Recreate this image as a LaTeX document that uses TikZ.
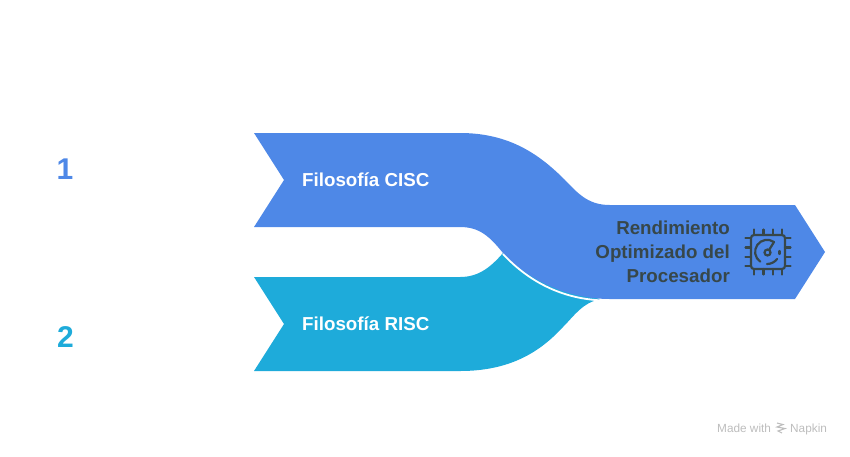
\documentclass[tikz,border=0pt]{standalone}
\usepackage{fontspec}
\setmainfont{Liberation Sans}
\definecolor{blueA}{HTML}{4E88E7}
\definecolor{cyanA}{HTML}{1EABDA}
\definecolor{darkA}{HTML}{37474A}
\definecolor{greyA}{HTML}{BDBDBD}
\tikzset{
  labelw/.style={text=white,font=\bfseries\fontsize{18.75}{24}\selectfont,anchor=west,inner sep=0pt},
  labeld/.style={text=darkA,font=\bfseries\fontsize{18.75}{24}\selectfont,align=right,anchor=east,inner sep=0pt},
  numlab/.style={font=\bfseries\fontsize{30}{36}\selectfont,inner sep=0pt},
  ico/.style={draw=darkA,line width=2.2pt,line cap=round},
  footmark/.style={text=greyA,font=\fontsize{11.8}{13}\selectfont,inner sep=0pt}
}
\begin{document}
\begin{tikzpicture}[x=1pt,y=-1pt]
\useasboundingbox (0,0) rectangle (850,456);
% lower ribbon
\fill[cyanA] (254,277) -- (460,277) .. controls (478,277) and (490,268) .. (503,253)
  -- (600,299.5)
  .. controls (583,302) and (574,316) .. (563,327)
  .. controls (540,352) and (510,371) .. (460,371)
  -- (254,371) -- (284,324) -- cycle;
% upper ribbon
\fill[blueA] (254,133) -- (460,133)
  .. controls (510,133) and (540,155) .. (565,180)
  .. controls (580,196) and (590,205) .. (610,205)
  -- (795,205) -- (825,252) -- (795,299) -- (610,299)
  .. controls (570,299) and (530,282) .. (503,253)
  .. controls (490,237) and (480,227) .. (460,227)
  -- (254,227) -- (284,180) -- cycle;
% white seam
\draw[white,line width=1.8pt] (503,254) .. controls (530,283) and (565,300) .. (606,300.5);
\node[labelw] (cisc) at (302,180) {Filosofía CISC};
\node[labelw] (risc) at (302,324) {Filosofía RISC};
\node[labeld] (rend) at (730,252) {Rendimiento\\Optimizado del\\Procesador};
\node[numlab,text=blueA] (n1) at (65,169) {1};
\node[numlab,text=cyanA] (n2) at (65.5,337) {2};
% chip icon
\draw[ico,rounded corners=3pt] (751,235) rectangle (785,269);
\foreach \p in {754,763.5,773,782}{
  \draw[ico] (\p,229.5) -- (\p,235);
  \draw[ico] (\p,269) -- (\p,274.5);
}
\foreach \p in {238,247.5,257,266}{
  \draw[ico] (745.5,\p) -- (751,\p);
  \draw[ico] (785,\p) -- (790.5,\p);
}
\draw[ico] (774,242) arc[start angle=-55,end angle=-235,radius=12];
\draw[ico] (767,264) .. controls (771,264) and (775,262) .. (777,259);
\draw[ico] (779.5,251) -- (779.5,254);
\draw[ico] (767.5,252.5) circle[radius=3];
\draw[ico] (769,250) -- (774,242);
% footer
\node[footmark,anchor=base west] (made) at (717,432) {Made with};
\node[footmark,anchor=base west] (nap) at (790,432) {Napkin};
\draw[greyA,line width=1.1pt] (777,423) -- (783,424.5) -- (777,427) -- (785,428.5) -- (778,431) -- (782,433);
\end{tikzpicture}
\end{document}
